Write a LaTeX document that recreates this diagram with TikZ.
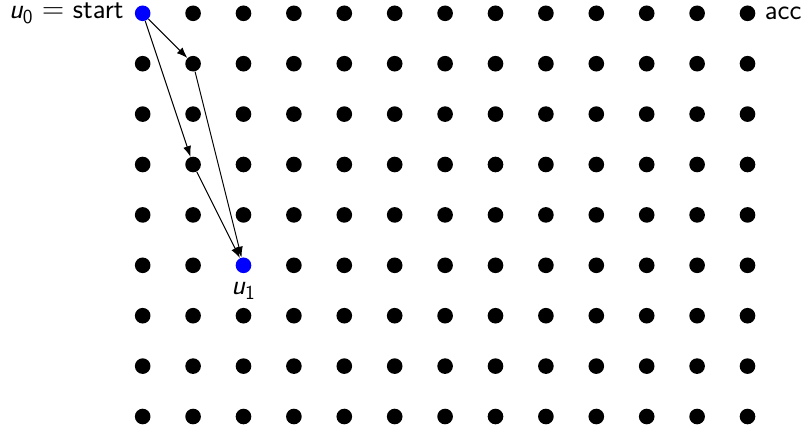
\documentclass[tikz,border=0pt]{standalone}
\usepackage{amsmath}
\usepackage{tikz}
\usetikzlibrary{arrows.meta,positioning}
\definecolor{startblue}{RGB}{0,0,255}

\begin{document}
\begin{tikzpicture}[x=1cm, y=1cm,
    font=\sffamily\fontsize{16}{19}\selectfont,
    dot/.style={circle, fill=black, inner sep=0pt, minimum size=0.31cm},
    walk/.style={-{Latex[length=6pt,width=4.5pt]}, line width=0.55pt},
    lab/.style={inner sep=3pt}]
        \useasboundingbox (-2.831,-8.188) rectangle (13.121,0.264);
        % Grid of points
        \foreach \r in {0,...,8}{
          \foreach \c in {0,...,12}{
            \def\dotcol{black}
            \ifnum\c=0 \ifnum\r=0 \def\dotcol{startblue}\fi\fi
            \ifnum\c=2 \ifnum\r=5 \def\dotcol{startblue}\fi\fi
            \node[dot, fill=\dotcol] (v\c-\r) at (\c,-\r) {};
          }
        }
        % Labels
        \node[lab, left=3pt of v0-0] (start) {$\textsf{\itshape u}_{\textsf{0}} =$ start};
        \node[lab, right=2pt of v12-0] (acc) {acc};
        \node[lab, below=2pt of v2-5] (target) {$\textsf{\itshape u}_{\textsf{1}}$};
        % Paths from u0 to u1
        \draw[walk] (v0-0) -- (v1-1);
        \draw[walk] (v1-1) -- (v2-5);
        \draw[walk] (v0-0) -- (v1-3);
        \draw[walk] (v1-3) -- (v2-5);
\end{tikzpicture}
\end{document}
